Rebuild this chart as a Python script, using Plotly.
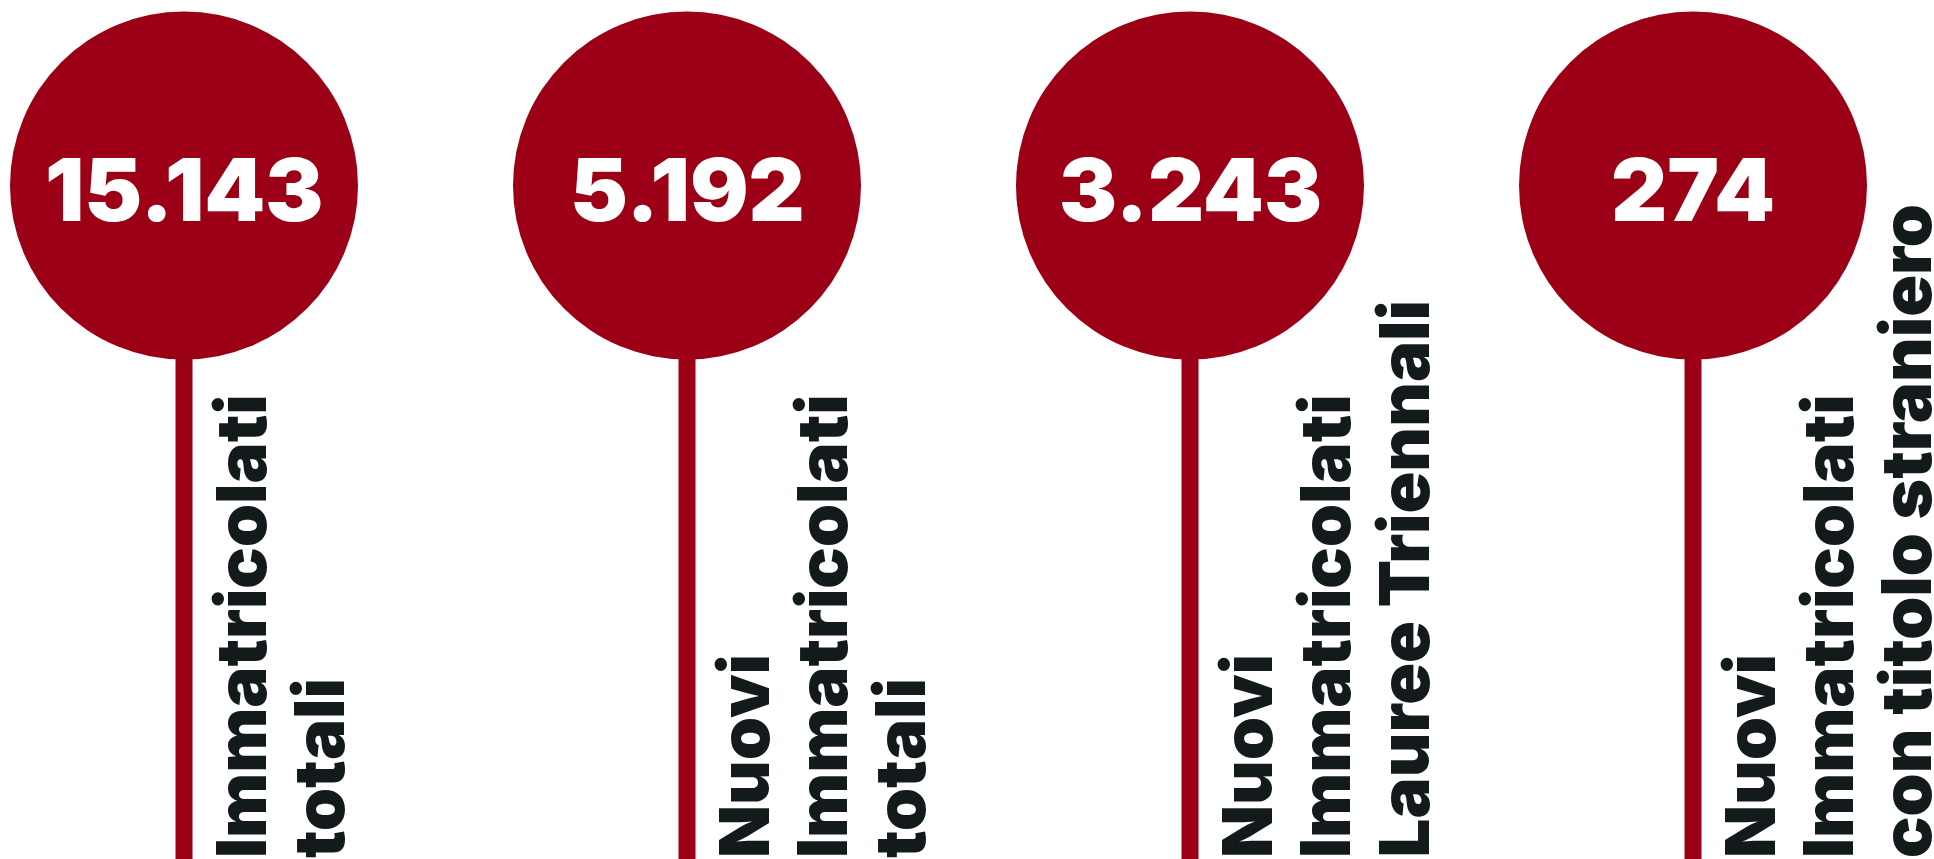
import plotly.graph_objects as go

# ---- data ----
categories = ["Immatricolati totali", "Nuovi immatricolati totali",
              "Nuovi immatricolati Lauree Triennali", "Nuovi immatricolati con titolo straniero"]
values = [15143, 5192, 3243, 274]
value_labels = ["15.143", "5.192", "3.243", "274"]
label_lines = [
    ["Immatricolati", "totali"],
    ["Nuovi", "Immatricolati", "totali"],
    ["Nuovi", "Immatricolati", "Lauree Triennali"],
    ["Nuovi", "Immatricolati", "con titolo straniero"],
]
level = [1, 1, 1, 1]  # lollipop head height (all equal in the infographic)

# ---- style ----
RED = "#9B0016"
DARK = "#131A1C"
FONT = "Inter"
W, H = 1934, 859

x_idx = list(range(len(categories)))

fig = go.Figure()

# stems
sx, sy = [], []
for i, lv in zip(x_idx, level):
    sx += [i, i, None]
    sy += [-0.05, lv, None]
fig.add_trace(go.Scatter(x=sx, y=sy, mode="lines",
                         line=dict(color=RED, width=17),
                         hoverinfo="skip", showlegend=False))

# heads
fig.add_trace(go.Scatter(
    x=x_idx, y=level, mode="markers",
    marker=dict(size=348, color=RED, line=dict(width=0)),
    customdata=values, hovertemplate="%{customdata}<extra></extra>",
    showlegend=False))

annotations = []
# values inside heads
for i, lv, txt in zip(x_idx, level, value_labels):
    annotations.append(dict(
        x=i, xref="x", y=lv, yref="y", xanchor="center", yanchor="middle",
        yshift=-4, text=txt, showarrow=False,
        font=dict(family=FONT, size=87, color="white", weight=900)))

# rotated labels
for i, lines in zip(x_idx, label_lines):
    for j, line in enumerate(lines):
        annotations.append(dict(
            x=i, xref="x", y=0, yref="paper",
            xanchor="left", yanchor="bottom",
            xshift=13 + j * 78, yshift=-1,
            text=line, textangle=-90, showarrow=False, align="left",
            font=dict(family=FONT, size=69, color=DARK, weight=900)))

px_per_unit = 503
x0 = -184 / px_per_unit
fig.update_layout(
    width=W, height=H, autosize=False,
    margin=dict(l=0, r=0, t=0, b=0),
    paper_bgcolor="white", plot_bgcolor="white",
    xaxis=dict(range=[x0, x0 + W / px_per_unit], visible=False, fixedrange=True),
    yaxis=dict(range=[0, 1 / (1 - 185.5 / H)], visible=False, fixedrange=True),
    annotations=annotations,
)

fig.write_html("out.html")
